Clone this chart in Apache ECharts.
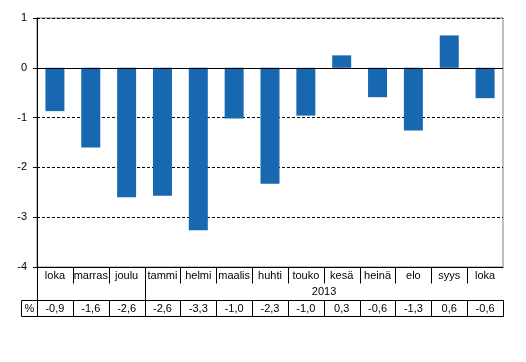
<!DOCTYPE html>
<html><head><meta charset="utf-8">
<script src="https://cdn.jsdelivr.net/npm/echarts@6/dist/echarts.min.js"></script>
<style>html,body{margin:0;padding:0;background:#fff}#c{width:526px;height:362px}</style>
</head><body><div id="c"></div>
<script>
const categories = ['loka','marras','joulu','tammi','helmi','maalis','huhti','touko','kesä','heinä','elo','syys','loka'];
const values = [-0.87,-1.6,-2.6,-2.57,-3.26,-1.02,-2.33,-0.96,0.25,-0.59,-1.26,0.65,-0.61];
const tableLabels = ['-0,9','-1,6','-2,6','-2,6','-3,3','-1,0','-2,3','-1,0','0,3','-0,6','-1,3','0,6','-0,6'];
const yearLabel = '2013';
const yearStartIndex = 3;
const rowHeaderLabel = '%';
const yTicks = {min:-4, max:1, interval:1};

const FONT = "'Liberation Sans', Arial, sans-serif";
const chart = echarts.init(document.getElementById('c'), null, {renderer:'canvas'});
const base = {
  animation:false,
  backgroundColor:'#fff',
  grid:{left:37,right:23,top:18,bottom:95,show:true,borderColor:'#808080',borderWidth:1},
  xAxis:{type:'category',data:categories,boundaryGap:true,
    axisLine:{show:true,onZero:false,lineStyle:{color:'#000',width:1}},
    axisTick:{show:false},
    axisLabel:{color:'#000',fontFamily:FONT,fontSize:11,margin:3,interval:0},
    splitLine:{show:false}},
  yAxis:{type:'value',min:yTicks.min,max:yTicks.max,interval:yTicks.interval,
    axisLine:{show:true,lineStyle:{color:'#000',width:1}},
    axisTick:{show:true,length:4,lineStyle:{color:'#000'}},
    axisLabel:{color:'#000',fontFamily:FONT,fontSize:11,margin:10},
    splitLine:{show:true,lineStyle:{color:'#000',type:[3,2],width:1}}},
  series:[{type:'bar',data:values,barWidth:19,itemStyle:{color:'#1768b1'},
    markLine:{silent:true,symbol:'none',label:{show:false},lineStyle:{color:'#000',type:'solid',width:1},data:[{yAxis:0}]}}]
};
chart.setOption(base);

function buildTable(){
  const c0 = chart.convertToPixel({xAxisIndex:0},0);
  const c1 = chart.convertToPixel({xAxisIndex:0},1);
  const bw = c1 - c0;
  const left = Math.round(c0 - bw/2) + 0.5;
  const right = Math.round(chart.convertToPixel({xAxisIndex:0},categories.length-1) + bw/2) + 0.5;
  const yBottom = Math.round(chart.convertToPixel({yAxisIndex:0},yTicks.min)) + 0.5;
  const row1 = yBottom + 16, row2 = yBottom + 33, row3 = yBottom + 49;
  const hdrLeft = left - 16;
  const ls = {stroke:'#000',lineWidth:1};
  const g = [];
  const line = (x1,y1,x2,y2)=>g.push({type:'line',shape:{x1,y1,x2,y2},style:ls,silent:true});
  line(left,yBottom,left,row3);
  line(hdrLeft,row2,right,row2);
  line(hdrLeft,row3,right,row3);
  line(hdrLeft,row2,hdrLeft,row3);
  line(right,row2,right,row3);
  for(let i=1;i<categories.length;i++){
    const x = Math.round(chart.convertToPixel({xAxisIndex:0},i) - bw/2) + 0.5;
    line(x,yBottom,x,i===yearStartIndex?row2:row1);
    line(x,row2,x,row3);
  }
  const ts = (text,x,y)=>g.push({type:'text',x,y,silent:true,style:{text,fill:'#000',font:'11px '+FONT,align:'center',verticalAlign:'middle'}});
  for(let i=0;i<categories.length;i++){
    ts(tableLabels[i],chart.convertToPixel({xAxisIndex:0},i),(row2+row3)/2);
  }
  ts(rowHeaderLabel,(hdrLeft+left)/2,(row2+row3)/2);
  const ys = chart.convertToPixel({xAxisIndex:0},yearStartIndex) - bw/2;
  ts(yearLabel,(ys+right)/2,(row1+row2)/2);
  chart.setOption({graphic:{elements:g}});
}
buildTable();
</script></body></html>
